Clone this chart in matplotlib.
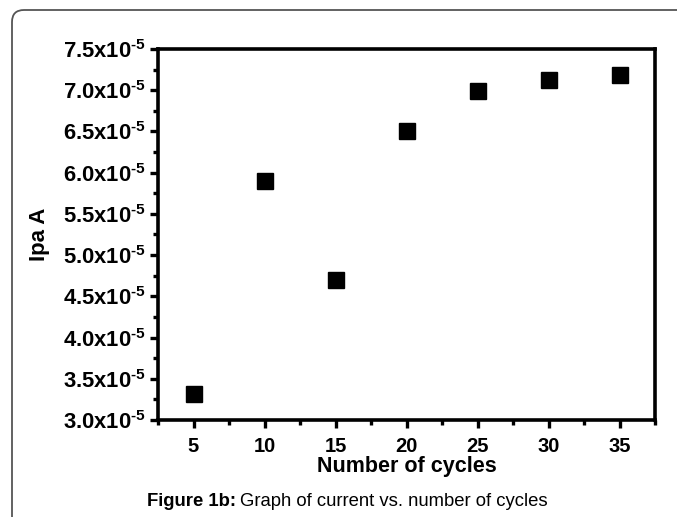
import matplotlib
matplotlib.use('Agg')
import matplotlib.pyplot as plt
from matplotlib.patches import FancyBboxPatch
from matplotlib.ticker import MultipleLocator, FixedLocator

plt.rcParams['font.family'] = ['Liberation Sans', 'DejaVu Sans']
plt.rcParams['mathtext.fontset'] = 'custom'
plt.rcParams['mathtext.rm'] = 'Liberation Sans:bold'
plt.rcParams['mathtext.it'] = 'Liberation Sans:bold'
plt.rcParams['mathtext.bf'] = 'Liberation Sans:bold'

cycles = [5, 10, 15, 20, 25, 30, 35]
ipa = [3.32e-5, 5.90e-5, 4.70e-5, 6.51e-5, 6.99e-5, 7.12e-5, 7.18e-5]
xticks = [5, 10, 15, 20, 25, 30, 35]
yticks = [3.0, 3.5, 4.0, 4.5, 5.0, 5.5, 6.0, 6.5, 7.0, 7.5]

fig = plt.figure(figsize=(6.77, 5.17), dpi=100)

# rounded frame round the figure (right and bottom edges fall outside)
frame = FancyBboxPatch((0.12, -0.5), 7.0, 5.57, boxstyle="round,pad=0,rounding_size=0.12",
                       transform=fig.dpi_scale_trans, fill=False, edgecolor='#555555',
                       linewidth=1.3)
fig.patches.append(frame)

ax = fig.add_axes([158 / 677, 1 - 420 / 517, (655 - 158) / 677, (420 - 49) / 517])
ax.plot(cycles, ipa, linestyle='none', marker='s', markersize=11.5, color='black')

ax.set_xlim(2.5, 37.5)
ax.set_ylim(3.0e-5, 7.5e-5)
ax.xaxis.set_major_locator(FixedLocator(xticks))
ax.xaxis.set_minor_locator(MultipleLocator(5, offset=2.5))
ax.yaxis.set_major_locator(FixedLocator([v * 1e-5 for v in yticks]))
ax.yaxis.set_minor_locator(MultipleLocator(0.5e-5, offset=0.25e-5))

ax.set_xticklabels([str(v) for v in xticks], fontsize=14.5, fontweight='bold')
ax.set_yticklabels([r'%.1fx10$^{\text{-5}}$' % v for v in yticks], fontsize=15.8, fontweight='bold')

for s in ax.spines.values():
    s.set_linewidth(2.6)
ax.tick_params(which='major', direction='out', length=6, width=2.4, pad=3)
ax.tick_params(axis='x', which='major', pad=6)
ax.tick_params(which='minor', direction='out', length=3.5, width=2.4)
ax.tick_params(top=False, right=False, which='both')

ax.set_xlabel('Number of cycles', fontsize=15.5, fontweight='bold', labelpad=0)
ax.set_ylabel('Ipa A', fontsize=16, fontweight='bold', labelpad=9)

# caption: bold lead-in followed by normal text
t1 = fig.text(147 / 677, 1 - 502 / 517, 'Figure 1b:', fontsize=13.3, fontweight='bold',
              ha='left', va='center')
fig.canvas.draw()
bb = t1.get_window_extent()
fig.text((bb.x1 + 4) / 677, 1 - 502 / 517, 'Graph of current vs. number of cycles',
         fontsize=13.3, ha='left', va='center')

fig.savefig('out.png', dpi=100)
